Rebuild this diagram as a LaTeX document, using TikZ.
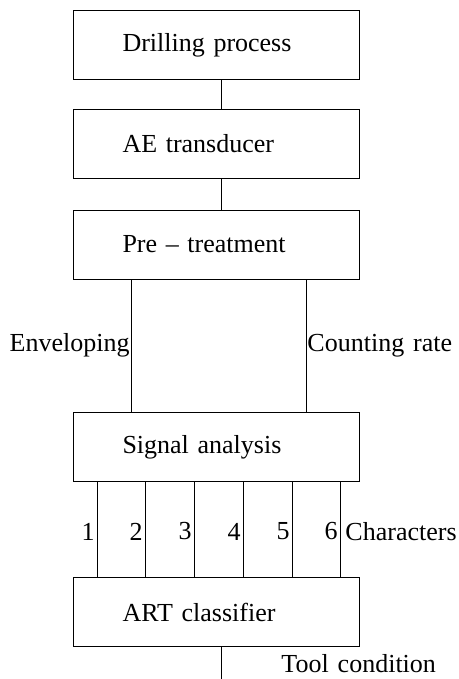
\documentclass[tikz,border=0pt]{standalone}
\usepackage{fontspec}
\setmainfont{Liberation Serif}
\newcommand\lblfont{\fontsize{26}{30}\selectfont\spaceskip=9pt plus 1pt\relax}
\begin{document}
\begin{tikzpicture}[x=1pt,y=1pt,line width=0.9pt,
  every node/.style={font=\lblfont},
  block/.style={draw,rectangle,minimum height=69pt,text width=188pt,
    inner xsep=49pt,align=left},
  tag/.style={inner sep=2pt}]
\useasboundingbox (0,0) rectangle (458,-679);

% process chain
\node[block] (drill) at (216.5,-45)    {Drilling process};
\node[block] (ae)    at (216.5,-143.5) {AE transducer};
\node[block] (pre)   at (216.5,-244.5) {Pre – treatment};
\node[block] (sig)   at (216.5,-447)   {Signal analysis};
\node[block] (art)   at (216.5,-612)   {ART classifier};

\draw ([xshift=4.5pt]drill.south) -- ([xshift=4.5pt]ae.north);
\draw ([xshift=4.5pt]ae.south) -- ([xshift=4.5pt]pre.north);

% two signal paths
\draw ([xshift=-85.5pt]pre.south) -- coordinate[midway] (envm) ([xshift=-85.5pt]sig.north);
\draw ([xshift=89.5pt]pre.south) -- coordinate[midway] (cntm) ([xshift=89.5pt]sig.north);
\node[tag,anchor=east,inner sep=1pt] (env) at (envm) {Enveloping};
\node[tag,anchor=west,inner sep=1pt] (cnt) at (cntm) {Counting rate};

% six feature channels
\foreach \i/\s in {1/-119.5,2/-71.5,3/-22.5,4/26.5,5/75.5,6/123.5}{
  \draw ([xshift=\s pt]sig.south) -- coordinate[midway] (m\i) ([xshift=\s pt]art.north);
  \node[tag,anchor=east] (n\i) at ([yshift=-2pt]m\i) {\i};
}
\node[tag,anchor=west] (chars) at ([xshift=3pt,yshift=-2pt]m6) {Characters};

% classifier output
\coordinate (out) at ([xshift=4.5pt]art.south |- 0,-679);
\draw ([xshift=4.5pt]art.south) -- (out);
\node[inner sep=0pt,anchor=base west] (tool) at (281,-672) {Tool condition};
\end{tikzpicture}
\end{document}
